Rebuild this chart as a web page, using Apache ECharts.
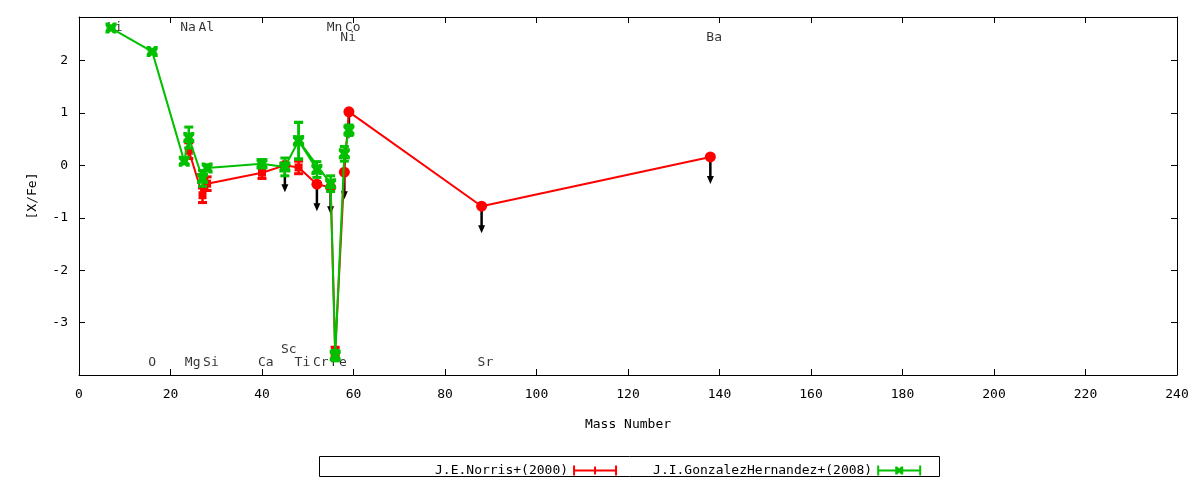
<!DOCTYPE html>
<html><head><meta charset="utf-8">
<script src="https://cdn.jsdelivr.net/npm/echarts@6/dist/echarts.min.js"></script>
<style>html,body{margin:0;padding:0;background:#fff}#c{width:1200px;height:480px}</style>
</head><body><div id="c"></div>
<script>
// Element labels (name, mass number, label y-level in [X/Fe])
const elementNames = ['Li','O','Na','Mg','Al','Si','Ca','Sc','Ti','Cr','Mn','Fe','Ni','Co','Sr','Ba'];
const elementMass  = [7,16,23,24,27,28,40,45,48,52,55,56,58,59,88,138];
const elementLabelY = [2.63,-3.76,2.63,-3.76,2.63,-3.76,-3.76,-3.51,-3.76,-3.76,2.63,-3.76,2.44,2.63,-3.76,2.44];

// J.E.Norris+(2000)
const norrisMass  = [24,27,28,40,45,48,52,55,56,58,59,88,138];
const norrisValue = [0.28,-0.57,-0.35,-0.14,0.0,-0.04,-0.36,-0.42,-3.55,-0.13,1.02,-0.78,0.16];
const norrisError = [0.15,0.14,0.13,0.11,0,0.12,0,0,0.08,0,0,0,0];
const norrisUpperLimit = [0,0,0,0,1,0,1,1,0,1,1,1,1];

// J.I.GonzalezHernandez+(2008)
const ghMass  = [7,16,23,24,27,28,40,45,48,52,48,55,56,58,59];
const ghValue = [2.62,2.17,0.08,0.53,-0.25,-0.05,0.03,-0.03,0.47,-0.08,0.47,-0.35,-3.63,0.22,0.67];
const ghError = [0.03,0.03,0.05,0.2,0.15,0.06,0.08,0.17,0.35,0.15,0.35,0.15,0.1,0.14,0.1];

const xTicks = [0,20,40,60,80,100,120,140,160,180,200,220,240];
const yTicks = [-3,-2,-1,0,1,2];

const RED = '#ff0000', GREEN = '#00c000';
const FONT = 'DejaVu Sans Mono';
const crossPath = 'path://M0,0 L3,0 L5,2 L7,0 L10,0 L10,3 L8,5 L10,7 L10,10 L7,10 L5,8 L3,10 L0,10 L0,7 L2,5 L0,3 Z';
const redIcon = 'path://M0,0 L2,0 L2,4 L21,4 L21,1 L23,1 L23,4 L42,4 L42,0 L44,0 L44,10 L42,10 L42,6 L23,6 L23,9 L21,9 L21,6 L2,6 L2,10 L0,10 Z';
const greenIcon = 'path://M0,0 L2,0 L2,4 L18,4 L18,1 L20,1 L22,3 L24,1 L26,1 L26,4 L42,4 L42,0 L44,0 L44,10 L42,10 L42,6 L26,6 L26,9 L24,9 L22,7 L20,9 L18,9 L18,6 L2,6 L2,10 L0,10 Z';

function errRender(color){
  return function(params, api){
    const x = api.value(0), y = api.value(1), e = api.value(2);
    if (!e) return {type:'group', children:[]};
    const t = api.coord([x, y + e]), b = api.coord([x, y - e]);
    const h = 4.5;
    const st = {stroke: color, lineWidth: 2.5};
    return {type:'group', children:[
      {type:'line', shape:{x1:t[0], y1:t[1], x2:b[0], y2:b[1]}, style:st},
      {type:'line', shape:{x1:t[0]-h, y1:t[1], x2:t[0]+h, y2:t[1]}, style:{stroke:color, lineWidth:3}},
      {type:'line', shape:{x1:b[0]-h, y1:b[1], x2:b[0]+h, y2:b[1]}, style:{stroke:color, lineWidth:3}}
    ]};
  };
}
function arrowRender(params, api){
  const p = api.coord([api.value(0), api.value(1)]);
  const L = 27, tip = p[1] + L;
  return {type:'group', children:[
    {type:'line', shape:{x1:p[0], y1:p[1], x2:p[0], y2:tip-4}, style:{stroke:'#000', lineWidth:2.5}},
    {type:'polygon', shape:{points:[[p[0]-3.5, tip-8],[p[0]+3.5, tip-8],[p[0], tip]]}, style:{fill:'#000'}}
  ]};
}

const labelData = elementNames.map((n,i)=>({name:n, value:[elementMass[i], elementLabelY[i]]}));
const norrisLine = norrisMass.map((m,i)=>({value:[m, norrisValue[i]], symbol: norrisUpperLimit[i] ? 'circle' : 'rect', symbolSize: norrisUpperLimit[i] ? 11 : 8}));
const norrisErr = norrisMass.map((m,i)=>[m, norrisValue[i], norrisError[i]]);
const norrisArrows = norrisMass.map((m,i)=>[m, norrisValue[i]]).filter((d,i)=>norrisUpperLimit[i]);
const ghLine = ghMass.map((m,i)=>[m, ghValue[i]]);
const ghErr = ghMass.map((m,i)=>[m, ghValue[i], ghError[i]]);

function axisCommon(){
  return {
    axisLine:{show:true, onZero:false, lineStyle:{color:'#000', width:1}},
    axisTick:{show:true, inside:true, length:6, lineStyle:{color:'#000'}},
    splitLine:{show:false}
  };
}

const chart = echarts.init(document.getElementById('c'));
chart.setOption({
  animation:false,
  backgroundColor:'#fff',
  grid:{left:79, right:23, top:17, bottom:105},
  xAxis:[
    Object.assign({type:'value', min:0, max:240, interval:20, position:'bottom',
      name:'Mass Number', nameLocation:'middle', nameGap:43,
      nameTextStyle:{fontFamily:FONT, fontSize:13, color:'#000'},
      axisLabel:{fontFamily:FONT, fontSize:13, color:'#000', margin:13,
        formatter: v => xTicks.includes(v) ? String(v) : ''}}, axisCommon()),
    Object.assign({type:'value', min:0, max:240, interval:20, position:'top', axisLabel:{show:false}}, axisCommon())
  ],
  yAxis:[
    Object.assign({type:'value', min:-4, max:2.83, interval:1, position:'left',
      name:'[X/Fe]', nameLocation:'middle', nameGap:40, nameRotate:90,
      nameTextStyle:{fontFamily:FONT, fontSize:13, color:'#000'},
      axisLabel:{fontFamily:FONT, fontSize:13, color:'#000', margin:11, showMinLabel:false, showMaxLabel:false,
        formatter: v => yTicks.includes(v) ? String(v) : ''}}, axisCommon()),
    Object.assign({type:'value', min:-4, max:2.83, interval:1, position:'right', axisLabel:{show:false}}, axisCommon())
  ],
  legend:{
    left:430, top:459, align:'right', orient:'horizontal',
    itemWidth:44, itemHeight:10, itemGap:36,
    textStyle:{fontFamily:FONT, fontSize:13, color:'#000'},
    data:[{name:'J.E.Norris+(2000)', icon:redIcon}, {name:'J.I.GonzalezHernandez+(2008)', icon:greenIcon}]
  },
  graphic:[{type:'rect', left:317, top:454, shape:{width:620, height:20}, style:{fill:'none', stroke:'#000', lineWidth:1}, silent:true}],
  series:[
    {name:'labels', type:'scatter', data:labelData, symbolSize:0, z:1, silent:true,
      label:{show:true, position:'inside', align:'left', verticalAlign:'middle', offset:[-4,0],
        formatter: p => p.name, fontFamily:FONT, fontSize:13, color:'#000'}},
    {name:'limits', type:'custom', renderItem:arrowRender, data:norrisArrows, encode:{x:0,y:1}, z:2, silent:true},
    {name:'norrisErr', type:'custom', renderItem:errRender(RED), data:norrisErr, encode:{x:0,y:1}, z:3, silent:true},
    {name:'J.E.Norris+(2000)', type:'line', data:norrisLine, z:4,
      itemStyle:{color:RED}, lineStyle:{color:RED, width:2}},
    {name:'ghErr', type:'custom', renderItem:errRender(GREEN), data:ghErr, encode:{x:0,y:1}, z:5, silent:true},
    {name:'J.I.GonzalezHernandez+(2008)', type:'line', data:ghLine, z:6, symbol:crossPath, symbolSize:11,
      itemStyle:{color:GREEN}, lineStyle:{color:GREEN, width:2}}
  ]
});
</script></body></html>
